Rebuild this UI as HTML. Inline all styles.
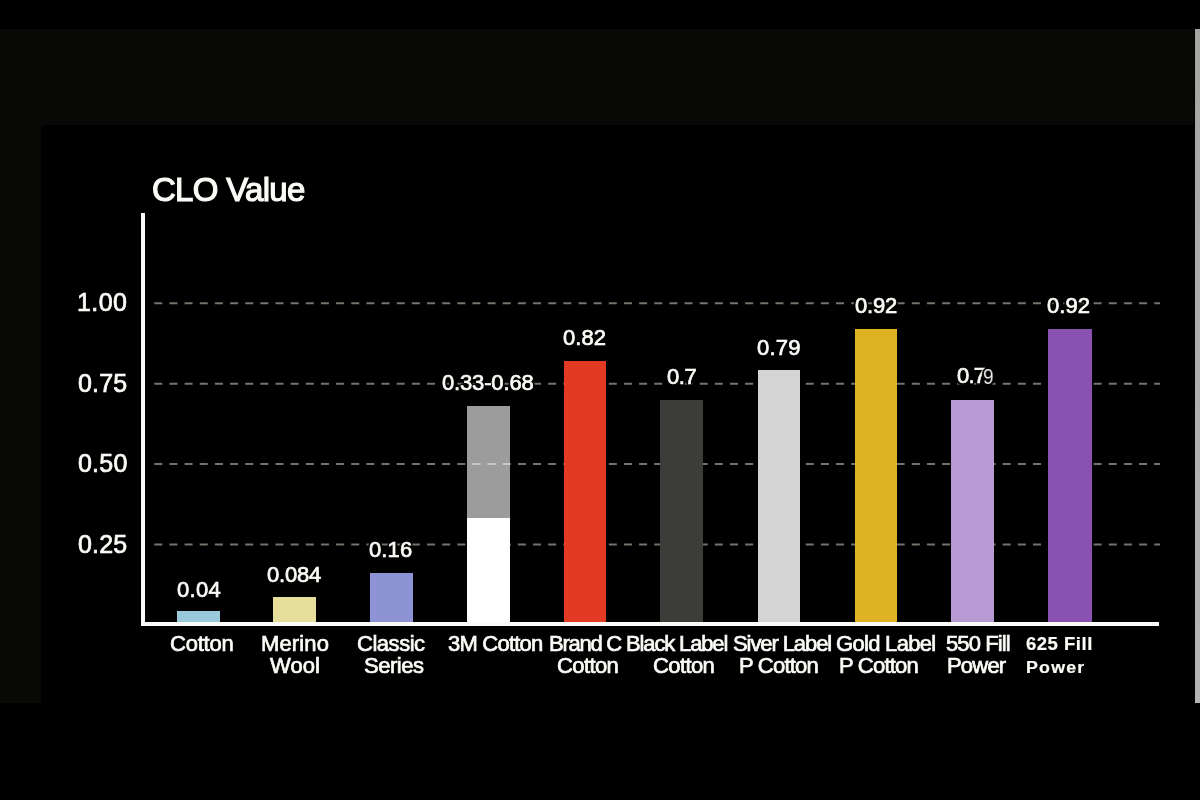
<!DOCTYPE html><html><head><meta charset="utf-8"><style>
html,body{margin:0;padding:0;background:#000;width:1200px;height:800px;overflow:hidden}
body{position:relative;font-family:"Liberation Sans",sans-serif;color:#fff}
.a{position:absolute}
.t{position:absolute;white-space:nowrap;color:#fbfbf7;-webkit-text-stroke:0.7px #fbfbf7;will-change:transform}
</style></head><body>
<div class="a" style="left:0;top:29px;width:1194px;height:674px;background:#080806"></div>
<div class="a" style="left:40.5px;top:125.3px;width:1153.5px;height:577.7px;background:#000;border-top-left-radius:6px"></div>
<div class="a" style="left:1195px;top:29px;width:5px;height:674px;background:linear-gradient(#a3a5a3,#acaeac 40%,#b3b5b3)"></div>
<svg class="a" style="left:0;top:0" width="1200" height="800" viewBox="0 0 1200 800">
<line x1="154.3" y1="303.2" x2="1160" y2="303.2" stroke="#74736c" stroke-width="2" stroke-dasharray="8 7.15"/>
<line x1="154.3" y1="383.8" x2="1160" y2="383.8" stroke="#74736c" stroke-width="2" stroke-dasharray="8 7.15"/>
<line x1="154.3" y1="464.0" x2="1160" y2="464.0" stroke="#74736c" stroke-width="2" stroke-dasharray="8 7.15"/>
<line x1="154.3" y1="544.5" x2="1160" y2="544.5" stroke="#74736c" stroke-width="2" stroke-dasharray="8 7.15"/>
</svg>
<div class="a" style="left:176.8px;top:611px;width:43.0px;height:11px;background:#9acad9"></div>
<div class="a" style="left:273px;top:597.2px;width:42.80000000000001px;height:24.799999999999955px;background:#e6df9c"></div>
<div class="a" style="left:369.6px;top:573px;width:43.099999999999966px;height:49px;background:#8d93d5"></div>
<div class="a" style="left:467px;top:405.5px;width:42.80000000000001px;height:216.5px;background:rgba(255,255,255,0.61)"></div>
<div class="a" style="left:563.5px;top:361px;width:42.799999999999955px;height:261px;background:#e23a23"></div>
<div class="a" style="left:660.3px;top:400px;width:42.700000000000045px;height:222px;background:#3c3c3a"></div>
<div class="a" style="left:757.8px;top:370.2px;width:42.200000000000045px;height:251.8px;background:#d3d4d3"></div>
<div class="a" style="left:855.2px;top:329px;width:42.09999999999991px;height:293px;background:#dfb223"></div>
<div class="a" style="left:951px;top:399.7px;width:42.799999999999955px;height:222.3px;background:#b89ad5"></div>
<div class="a" style="left:1048px;top:329px;width:43.799999999999955px;height:293px;background:#8a52b0"></div>
<div class="a" style="left:467px;top:518px;width:42.8px;height:104px;background:#fff"></div>
<div class="a" style="left:140.9px;top:213px;width:3.7px;height:413px;background:#fbfbf7"></div>
<div class="a" style="left:140.9px;top:622px;width:1018.6px;height:4.4px;background:#fbfbf7"></div>
<div class="t" style="left:152.30px;top:170.17px;font-size:33px;line-height:39.60px;font-weight:normal;letter-spacing:-0.707px;-webkit-text-stroke-width:1.2px;">CLO Value</div>
<div class="t" style="left:77.11px;top:287.29px;font-size:25px;line-height:30.00px;font-weight:normal;letter-spacing:0.456px;">1.00</div>
<div class="t" style="left:77.88px;top:368.29px;font-size:25px;line-height:30.00px;font-weight:normal;letter-spacing:0.172px;">0.75</div>
<div class="t" style="left:78.28px;top:448.09px;font-size:25px;line-height:30.00px;font-weight:normal;letter-spacing:0.216px;">0.50</div>
<div class="t" style="left:78.28px;top:528.89px;font-size:25px;line-height:30.00px;font-weight:normal;letter-spacing:0.178px;">0.25</div>
<div class="t" style="text-shadow:2px 0 1px #000,-2px 0 1px #000,0 2px 1px #000,0 -2px 1px #000,1.5px 1.5px 1px #000,-1.5px 1.5px 1px #000,1.5px -1.5px 1px #000,-1.5px -1.5px 1px #000,0 0 3px #000;left:177.22px;top:576.59px;font-size:22px;line-height:26.40px;font-weight:normal;letter-spacing:0.295px;">0.04</div>
<div class="t" style="text-shadow:2px 0 1px #000,-2px 0 1px #000,0 2px 1px #000,0 -2px 1px #000,1.5px 1.5px 1px #000,-1.5px 1.5px 1px #000,1.5px -1.5px 1px #000,-1.5px -1.5px 1px #000,0 0 3px #000;left:266.82px;top:562.19px;font-size:22px;line-height:26.40px;font-weight:normal;letter-spacing:-0.178px;">0.084</div>
<div class="t" style="text-shadow:2px 0 1px #000,-2px 0 1px #000,0 2px 1px #000,0 -2px 1px #000,1.5px 1.5px 1px #000,-1.5px 1.5px 1px #000,1.5px -1.5px 1px #000,-1.5px -1.5px 1px #000,0 0 3px #000;left:369.22px;top:537.19px;font-size:22px;line-height:26.40px;font-weight:normal;letter-spacing:0.098px;">0.16</div>
<div class="t" style="text-shadow:2px 0 1px #000,-2px 0 1px #000,0 2px 1px #000,0 -2px 1px #000,1.5px 1.5px 1px #000,-1.5px 1.5px 1px #000,1.5px -1.5px 1px #000,-1.5px -1.5px 1px #000,0 0 3px #000;left:441.82px;top:370.39px;font-size:22px;line-height:26.40px;font-weight:normal;letter-spacing:-0.156px;">0.33-0.68</div>
<div class="t" style="text-shadow:2px 0 1px #000,-2px 0 1px #000,0 2px 1px #000,0 -2px 1px #000,1.5px 1.5px 1px #000,-1.5px 1.5px 1px #000,1.5px -1.5px 1px #000,-1.5px -1.5px 1px #000,0 0 3px #000;left:563.22px;top:325.19px;font-size:22px;line-height:26.40px;font-weight:normal;letter-spacing:0.026px;">0.82</div>
<div class="t" style="text-shadow:2px 0 1px #000,-2px 0 1px #000,0 2px 1px #000,0 -2px 1px #000,1.5px 1.5px 1px #000,-1.5px 1.5px 1px #000,1.5px -1.5px 1px #000,-1.5px -1.5px 1px #000,0 0 3px #000;left:666.82px;top:363.79px;font-size:22px;line-height:26.40px;font-weight:normal;letter-spacing:-0.383px;">0.7</div>
<div class="t" style="text-shadow:2px 0 1px #000,-2px 0 1px #000,0 2px 1px #000,0 -2px 1px #000,1.5px 1.5px 1px #000,-1.5px 1.5px 1px #000,1.5px -1.5px 1px #000,-1.5px -1.5px 1px #000,0 0 3px #000;left:756.82px;top:334.99px;font-size:22px;line-height:26.40px;font-weight:normal;letter-spacing:0.214px;">0.79</div>
<div class="t" style="text-shadow:2px 0 1px #000,-2px 0 1px #000,0 2px 1px #000,0 -2px 1px #000,1.5px 1.5px 1px #000,-1.5px 1.5px 1px #000,1.5px -1.5px 1px #000,-1.5px -1.5px 1px #000,0 0 3px #000;left:854.62px;top:293.19px;font-size:22px;line-height:26.40px;font-weight:normal;letter-spacing:-0.212px;">0.92</div>
<div class="t" style="text-shadow:2px 0 1px #000,-2px 0 1px #000,0 2px 1px #000,0 -2px 1px #000,1.5px 1.5px 1px #000,-1.5px 1.5px 1px #000,1.5px -1.5px 1px #000,-1.5px -1.5px 1px #000,0 0 3px #000;left:956.87px;top:363.39px;font-size:22px;line-height:26.40px;font-weight:normal;letter-spacing:-0.810px;">0.7</div>
<div class="t" style="text-shadow:2px 0 1px #000,-2px 0 1px #000,0 2px 1px #000,0 -2px 1px #000,1.5px 1.5px 1px #000,-1.5px 1.5px 1px #000,1.5px -1.5px 1px #000,-1.5px -1.5px 1px #000,0 0 3px #000;left:982.83px;top:363.71px;font-size:22px;line-height:26.40px;font-weight:normal;letter-spacing:0.000px;transform:scaleX(0.86);transform-origin:0 0;-webkit-text-stroke:0;color:#eef0f0;">9</div>
<div class="t" style="text-shadow:2px 0 1px #000,-2px 0 1px #000,0 2px 1px #000,0 -2px 1px #000,1.5px 1.5px 1px #000,-1.5px 1.5px 1px #000,1.5px -1.5px 1px #000,-1.5px -1.5px 1px #000,0 0 3px #000;left:1047.42px;top:293.19px;font-size:22px;line-height:26.40px;font-weight:normal;letter-spacing:0.053px;">0.92</div>
<div class="t" style="left:169.93px;top:630.89px;font-size:22px;line-height:26.40px;font-weight:normal;letter-spacing:-0.239px;">Cotton</div>
<div class="t" style="left:261.32px;top:630.89px;font-size:22px;line-height:26.40px;font-weight:normal;letter-spacing:0.146px;">Merino</div>
<div class="t" style="left:270.40px;top:653.09px;font-size:22px;line-height:26.40px;font-weight:normal;letter-spacing:0.028px;">Wool</div>
<div class="t" style="left:356.93px;top:630.89px;font-size:22px;line-height:26.40px;font-weight:normal;letter-spacing:-0.469px;">Classic</div>
<div class="t" style="left:363.92px;top:653.09px;font-size:22px;line-height:26.40px;font-weight:normal;letter-spacing:-0.456px;">Series</div>
<div class="t" style="left:448.10px;top:630.89px;font-size:22px;line-height:26.40px;font-weight:normal;letter-spacing:-0.776px;">3M Cotton</div>
<div class="t" style="left:548.92px;top:630.87px;font-size:22px;line-height:26.40px;font-weight:normal;letter-spacing:-1.251px;">Brand C</div>
<div class="t" style="left:556.93px;top:653.09px;font-size:22px;line-height:26.40px;font-weight:normal;letter-spacing:-0.603px;">Cotton</div>
<div class="t" style="left:626.32px;top:630.88px;font-size:22px;line-height:26.40px;font-weight:normal;letter-spacing:-1.138px;">Black Label</div>
<div class="t" style="left:652.53px;top:653.09px;font-size:22px;line-height:26.40px;font-weight:normal;letter-spacing:-0.603px;">Cotton</div>
<div class="t" style="left:733.12px;top:630.88px;font-size:22px;line-height:26.40px;font-weight:normal;letter-spacing:-1.089px;">Siver Label</div>
<div class="t" style="left:739.12px;top:653.09px;font-size:22px;line-height:26.40px;font-weight:normal;letter-spacing:-0.784px;">P Cotton</div>
<div class="t" style="left:836.00px;top:630.89px;font-size:22px;line-height:26.40px;font-weight:normal;letter-spacing:-0.697px;">Gold Label</div>
<div class="t" style="left:839.12px;top:653.09px;font-size:22px;line-height:26.40px;font-weight:normal;letter-spacing:-0.784px;">P Cotton</div>
<div class="t" style="left:945.74px;top:630.89px;font-size:22px;line-height:26.40px;font-weight:normal;letter-spacing:-0.889px;">550 Fill</div>
<div class="t" style="left:947.12px;top:653.09px;font-size:22px;line-height:26.40px;font-weight:normal;letter-spacing:-0.801px;">Power</div>
<div class="t" style="left:1025.97px;top:632.50px;font-size:18.5px;line-height:22.20px;font-weight:bold;letter-spacing:0.513px;-webkit-text-stroke-width:0.2px;">625 Fill</div>
<div class="t" style="left:1025.73px;top:657.70px;font-size:16.8px;line-height:20.16px;font-weight:bold;letter-spacing:1.151px;transform:scaleX(1.06);transform-origin:0 0;-webkit-text-stroke-width:0.2px;">Power</div>
</body></html>
